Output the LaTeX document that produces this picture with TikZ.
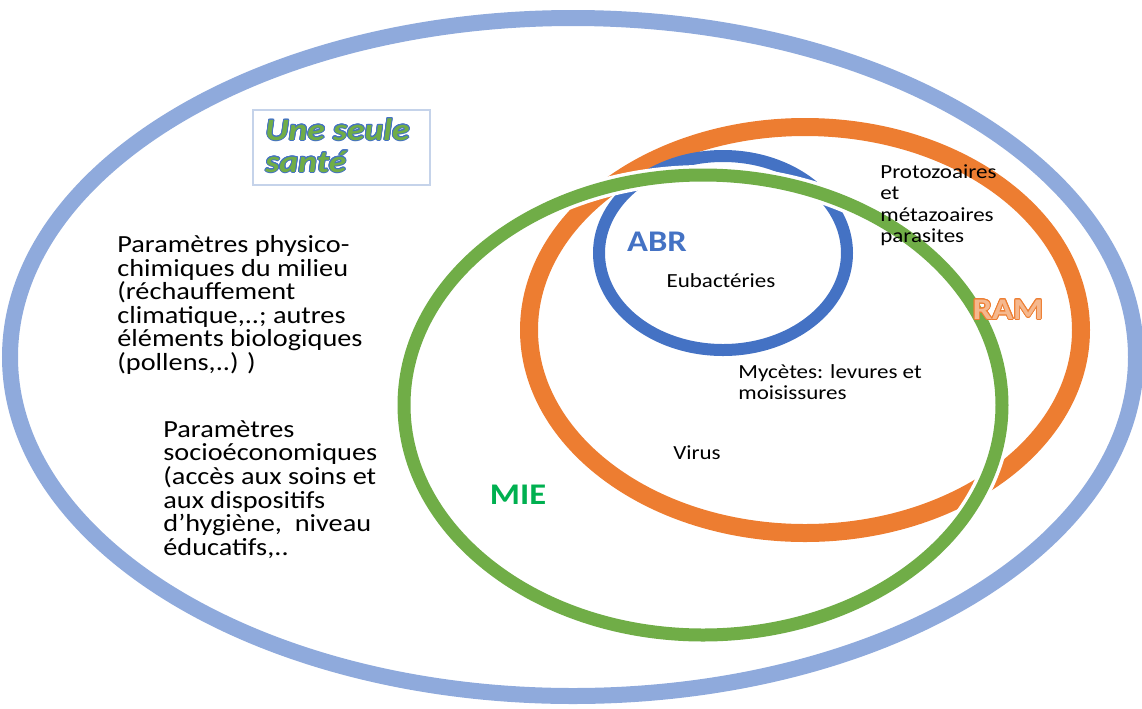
\documentclass[tikz,border=0pt]{standalone}
\usepackage{fontspec}
\setmainfont[FakeStretch=1.15]{Carlito}
\usepackage{contour}
\contourlength{0.45pt}

\definecolor{santeblue}{HTML}{8FAADC}
\definecolor{ramorange}{HTML}{ED7D31}
\definecolor{mieline}{HTML}{70AD47}
\definecolor{miegreen}{HTML}{00B050}
\definecolor{abrblue}{HTML}{4472C4}
\definecolor{boxline}{HTML}{C5D3EA}

\tikzset{
  ring/.style={line width=#1},
  bigtxt/.style={inner sep=0pt, anchor=north west, align=left,
    font=\fontsize{12.3}{11.8}\selectfont},
  smalltxt/.style={inner sep=0pt, align=left,
    font=\fontsize{10}{10.8}\selectfont},
  tag/.style={inner sep=0pt, font=\fontsize{15}{15}\selectfont\bfseries}
}

\begin{document}
\begin{tikzpicture}[x=0.5pt, y=-0.5pt]
  \useasboundingbox (0,0) rectangle (1142,708);

  % the rings, outer one first
  \draw[ring=8pt, santeblue] (573,357) ellipse [x radius=563, y radius=339];
  \draw[ring=9pt, ramorange] (805,330) ellipse [x radius=276, y radius=203];
  \draw[ring=6pt, abrblue] (723,253) ellipse [x radius=124, y radius=97];
  \draw[ring=10pt, white] (703,405) ellipse [x radius=299, y radius=230];
  \draw[ring=6.5pt, mieline] (703,405) ellipse [x radius=299, y radius=230];

  % title box
  \draw[boxline, line width=0.8pt] (253,110) rectangle (430,185);
  \node[inner sep=0pt, anchor=north west, align=left,
        font=\fontsize{15.5}{16}\selectfont\bfseries\itshape, text=mieline]
    (title) at (265,118) {\contour{abrblue}{Une seule}\\\contour{abrblue}{santé}};

  % texts on the left
  \node[bigtxt] (physico) at (117,235)
    {Paramètres physico-\\chimiques du milieu\\(réchauffement\\climatique,..; autres\\éléments biologiques\\(pollens,..) )};
  \node[bigtxt] (socio) at (163,420)
    {Paramètres\\socioéconomiques\\(accès aux soins et\\aux dispositifs\\d’hygiène,~ niveau\\éducatifs,..};

  % texts inside the rings
  \node[smalltxt, anchor=north west] (protozoa) at (880,164)
    {Protozoaires\\et\\métazoaires\\parasites};
  \node[smalltxt] (eubact) at (721,281) {Eubactéries};
  \node[smalltxt, anchor=north west] (mycetes) at (738,364)
    {Mycètes: levures et\\moisissures};
  \node[smalltxt] (virus) at (697,453) {Virus};

  % ring labels
  \node[tag, text=abrblue] (abr) at (657,242) {ABR};
  \node[tag, text=miegreen] (mie) at (518,495) {MIE};
  \node[tag, text=ramorange!55] (ram) at (1008,310) {\contour{ramorange}{RAM}};
\end{tikzpicture}
\end{document}
